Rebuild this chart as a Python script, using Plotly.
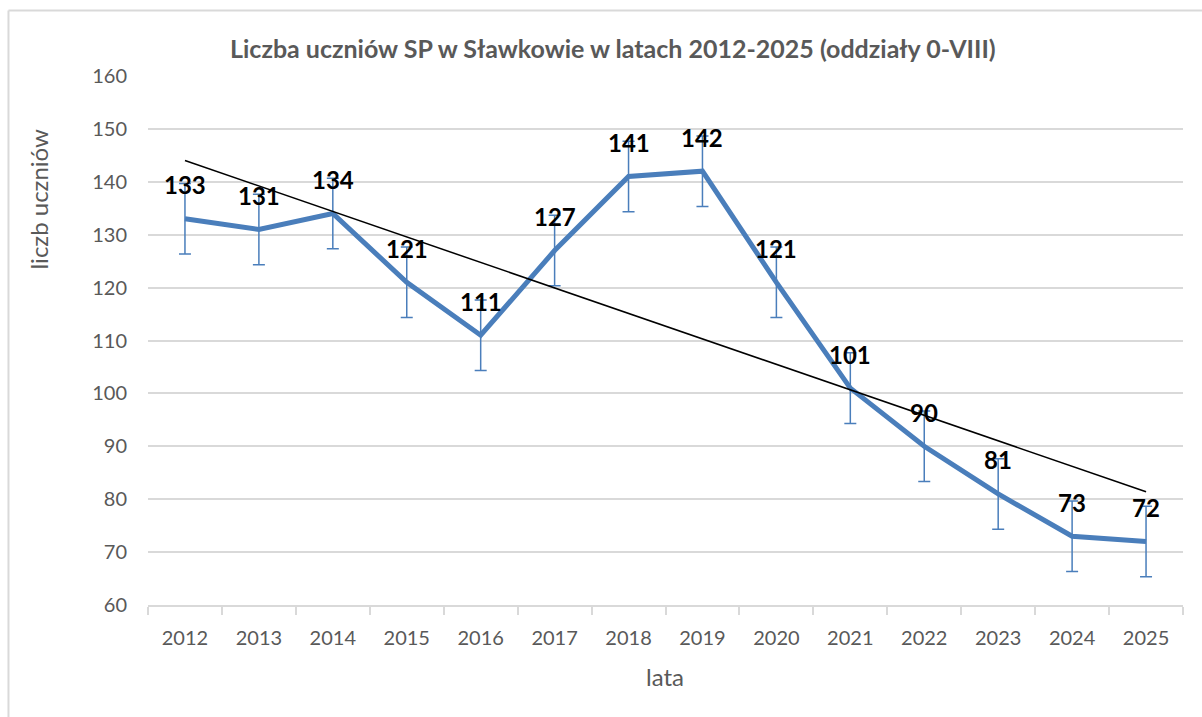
import numpy as np
import plotly.graph_objects as go

years = ["2012", "2013", "2014", "2015", "2016", "2017", "2018",
         "2019", "2020", "2021", "2022", "2023", "2024", "2025"]
students = [133, 131, 134, 121, 111, 127, 141, 142, 121, 101, 90, 81, 73, 72]

title_text = "Liczba uczniów SP w Sławkowie w latach 2012-2025 (oddziały 0-VIII)"
y_title = "liczb uczniów"
x_title = "lata"

vals = np.array(students, dtype=float)
n = len(vals)
std_err = vals.std(ddof=1) / np.sqrt(n)
idx = np.arange(n)
slope, intercept = np.polyfit(idx, vals, 1)
trend = slope * idx + intercept

FONT = "Lato"
BLUE = "#4a7ebb"
GRAY = "#595959"
GRID = "#d9d9d9"

fig = go.Figure()
fig.add_trace(go.Scatter(
    x=idx, y=students, mode="lines",
    line=dict(color=BLUE, width=5),
    error_y=dict(type="constant", value=std_err, color=BLUE, thickness=1.5, width=6),
    showlegend=False, hoverinfo="y",
))
fig.add_trace(go.Scatter(
    x=idx, y=trend, mode="lines",
    line=dict(color="black", width=1.5),
    showlegend=False, hoverinfo="skip",
))

for i, v in zip(idx, students):
    fig.add_annotation(x=int(i), y=v, text=f"<b>{v}</b>", showarrow=False,
                       yshift=34, font=dict(family=FONT, size=24, color="black"))

fig.add_annotation(xref="paper", yref="paper", x=0.449, y=1.053,
                   xanchor="center", yanchor="middle",
                   text=f"<b>{title_text}</b>", showarrow=False,
                   font=dict(family=FONT, size=25, color=GRAY))
fig.add_annotation(xref="paper", yref="paper", x=-0.106, y=0.767,
                   xanchor="center", yanchor="middle",
                   text=y_title, textangle=-90, showarrow=False,
                   font=dict(family=FONT, size=24, color=GRAY))
fig.add_annotation(xref="paper", yref="paper", x=0.4995, y=-0.136,
                   xanchor="center", yanchor="middle",
                   text=x_title, showarrow=False,
                   font=dict(family=FONT, size=24, color=GRAY))

# chart frame (left and top edges)
fig.add_shape(type="line", xref="paper", yref="paper",
              x0=-0.1348, y0=1.1238, x1=1.1, y1=1.1238,
              line=dict(color=GRID, width=2))
fig.add_shape(type="line", xref="paper", yref="paper",
              x0=-0.1348, y0=1.1238, x1=-0.1348, y1=-0.3,
              line=dict(color=GRID, width=2))

fig.update_layout(
    width=1202, height=717,
    margin=dict(l=148, r=19, t=76, b=112),
    paper_bgcolor="white", plot_bgcolor="white",
    font=dict(family=FONT, color=GRAY),
)
fig.update_xaxes(
    tickmode="array", tickvals=idx, ticktext=years,
    showline=True, linecolor=GRID, linewidth=1.5,
    showgrid=False, tickfont=dict(family=FONT, size=20, color=GRAY),
    ticks="", range=[-0.5, n - 0.5], zeroline=False,
    minor=dict(tickmode="array", tickvals=np.arange(-0.5, n, 1.0),
               ticks="outside", ticklen=8, tickcolor=GRID, tickwidth=1.5,
               showgrid=False),
    ticklabelstandoff=14,
)
fig.update_yaxes(
    range=[60, 160], dtick=10, tick0=60, showgrid=True, gridcolor=GRID,
    gridwidth=1.5, zeroline=False, showline=False, ticks="",
    ticklabelstandoff=20,
    tickfont=dict(family=FONT, size=20, color=GRAY),
)

fig.write_html("out.html", config={"displayModeBar": False},
               post_script="document.body.style.margin='0';")
